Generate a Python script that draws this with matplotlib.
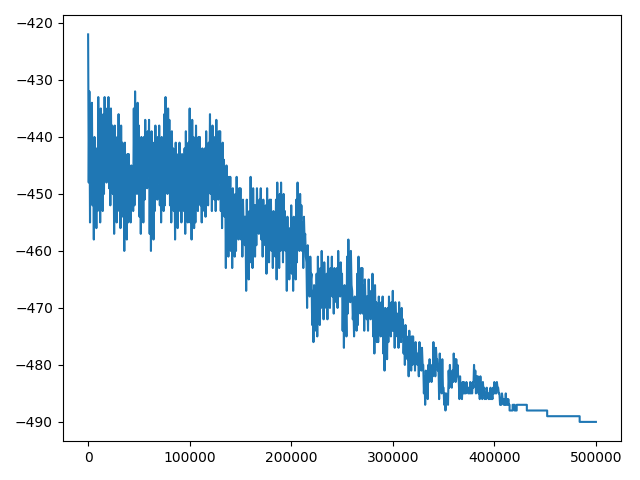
import numpy as np
import matplotlib
matplotlib.use("Agg")
import matplotlib.pyplot as plt

sample_interval = 625
energy_noisy = [
    -422, -448, -432, -455, -437, -450, -434, -452,
    -443, -458, -440, -454, -445, -456, -442, -453,
    -433, -452, -436, -455, -435, -450, -438, -453,
    -436, -450, -433, -446, -438, -448, -435, -445,
    -433, -449, -436, -452, -435, -447, -438, -450,
    -441, -457, -438, -453, -443, -455, -440, -452,
    -436, -453, -439, -456, -438, -451, -441, -454,
    -444, -460, -441, -456, -446, -458, -443, -455,
    -443, -452, -446, -455, -445, -450, -448, -453,
    -435, -452, -432, -448, -437, -450, -434, -447,
    -438, -454, -441, -457, -440, -452, -443, -455,
    -440, -451, -437, -447, -442, -449, -439, -446,
    -437, -457, -440, -460, -439, -455, -442, -458,
    -441, -453, -438, -449, -443, -451, -440, -448,
    -438, -452, -441, -455, -440, -450, -443, -453,
    -436, -452, -433, -448, -438, -450, -435, -447,
    -437, -452, -440, -455, -439, -450, -442, -453,
    -444, -458, -441, -454, -446, -456, -443, -453,
    -441, -452, -444, -455, -443, -450, -446, -453,
    -442, -457, -439, -453, -444, -455, -441, -452,
    -435, -455, -438, -458, -437, -453, -440, -456,
    -441, -455, -438, -451, -443, -453, -440, -450,
    -440, -452, -443, -455, -442, -450, -445, -453,
    -442, -454, -439, -450, -444, -452, -441, -449,
    -436, -450, -439, -453, -438, -448, -441, -451,
    -440, -453, -437, -449, -442, -451, -439, -448,
    -439, -453, -442, -456, -441, -451, -444, -454,
    -448, -463, -445, -459, -450, -461, -447, -458,
    -447, -460, -450, -463, -449, -458, -452, -461,
    -450, -460, -447, -456, -452, -458, -449, -455,
    -449, -458, -452, -461, -451, -456, -454, -459,
    -454, -467, -451, -463, -456, -465, -453, -462,
    -447, -460, -450, -463, -449, -458, -452, -461,
    -452, -459, -449, -455, -454, -457, -451, -454,
    -449, -458, -452, -461, -451, -456, -454, -459,
    -452, -464, -449, -460, -454, -462, -451, -459,
    -451, -460, -454, -463, -453, -458, -456, -461,
    -451, -465, -448, -461, -453, -463, -450, -460,
    -448, -459, -451, -462, -450, -457, -453, -460,
    -457, -467, -454, -463, -459, -465, -456, -462,
    -452, -464, -455, -467, -454, -462, -457, -465,
    -451, -462, -448, -458, -453, -460, -450, -457,
    -452, -460, -455, -463, -454, -458, -457, -461,
    -462, -470, -459, -466, -464, -468, -461, -465,
    -464, -473, -467, -476, -466, -471, -469, -474,
    -464, -475, -461, -471, -466, -473, -463, -470,
    -460, -469, -463, -472, -462, -467, -465, -470,
    -464, -472, -461, -468, -466, -470, -463, -467,
    -461, -468, -464, -471, -463, -466, -466, -469,
    -463, -470, -460, -466, -465, -468, -462, -465,
    -464, -474, -467, -477, -466, -472, -469, -475,
    -461, -471, -458, -467, -463, -469, -460, -466,
    -467, -472, -470, -475, -468, -473, -471, -474,
    -464, -473, -461, -469, -466, -471, -463, -468,
    -463, -471, -466, -474, -465, -469, -468, -472,
    -468, -474, -465, -470, -469, -472, -467, -471,
    -464, -475, -467, -478, -466, -473, -469, -476,
    -470, -476, -468, -473, -471, -475, -469, -474,
    -468, -478, -471, -481, -470, -476, -473, -479,
    -470, -476, -468, -473, -471, -475, -469, -474,
    -467, -474, -470, -477, -469, -472, -471, -475,
    -471, -477, -469, -474, -472, -476, -470, -475,
    -472, -478, -474, -480, -473, -477, -475, -479,
    -476, -482, -474, -479, -477, -481, -475, -480,
    -475, -479, -477, -481, -476, -478, -478, -480,
    -478, -482, -476, -480, -479, -481, -477, -480,
    -480, -485, -482, -487, -481, -484, -483, -486,
    -480, -483, -479, -482, -481, -483, -480, -482,
    -476, -480, -478, -482, -477, -479, -479, -481,
    -480, -486, -478, -483, -481, -485, -479, -484,
    -484, -487, -485, -488, -485, -486, -486, -487,
    -481, -484, -480, -483, -482, -484, -481, -483,
    -478, -481, -479, -483, -479, -482, -480, -482,
    -483, -486, -482, -485, -484, -486, -483, -485,
    -483, -485, -484, -485, -483, -484, -484, -485,
    -484, -485, -483, -485, -484, -485, -483, -484,
    -480, -483, -481, -485, -482, -484, -482, -485,
    -483, -486, -482, -485, -484, -486, -483, -485,
    -484, -486, -485, -486, -484, -485, -485, -486,
    -485, -486, -484, -486, -485, -486, -484, -485,
    -483, -485, -484, -485, -483, -484, -484, -485,
    -485, -487, -486, -487, -485, -486, -486, -487,
    -486, -487, -485, -487, -486, -487, -486, -487,
]

# Flat tail: steps where the value changes, and the new values
tail_steps = [415000, 418000, 420000, 422000, 432000, 452000, 484000, 500000]
tail_values = [-488, -487, -488, -487, -488, -489, -490, -490]

noisy_steps = list(np.arange(len(energy_noisy)) * sample_interval)

# Build the tail as a staircase (hold previous value until each change step)
xs = list(noisy_steps)
ys = list(energy_noisy)
for s, v in zip(tail_steps, tail_values):
    xs.append(s)
    ys.append(ys[-1])
    xs.append(s)
    ys.append(v)

fig, ax = plt.subplots(figsize=(6.4, 4.8), dpi=100)
ax.plot(xs, ys, color="C0", linewidth=1.5)
fig.tight_layout()
fig.savefig("out.png")
